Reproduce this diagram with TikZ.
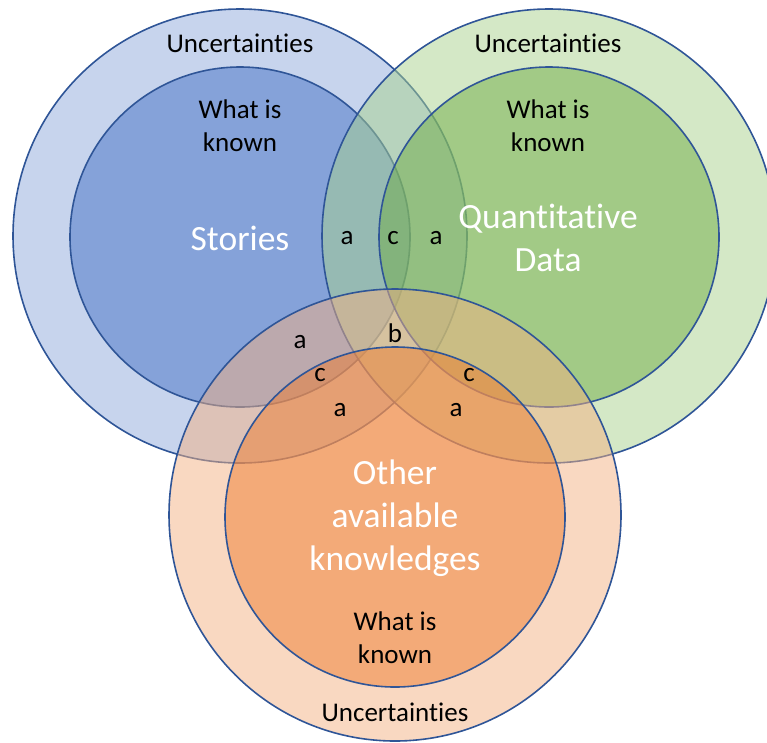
\documentclass[tikz,border=0pt]{standalone}
\usepackage{fontspec}
\setmainfont{Carlito}[Ligatures={NoCommon}]
\definecolor{edge}{HTML}{2F5597}
\definecolor{blueout}{HTML}{8FAADC}
\definecolor{bluein}{HTML}{4472C4}
\definecolor{greenout}{HTML}{A9D18E}
\definecolor{greenin}{HTML}{70AD47}
\definecolor{orangeout}{HTML}{F4B183}
\definecolor{orangein}{HTML}{ED7D31}
\tikzset{
  ring/.style={draw=edge, line width=1.6pt, fill opacity=0.5, draw opacity=1},
  lbl/.style={font=\fontsize{27}{33}\selectfont, align=center, text=black, inner sep=0pt},
  biglbl/.style={font=\fontsize{35.5}{43}\selectfont, align=center, text=white, inner sep=0pt},
  zone/.style={font=\fontsize{27}{30}\selectfont, text=black, inner sep=0pt}
}
\begin{document}
\begin{tikzpicture}[x=1pt,y=-1pt]
\useasboundingbox (0,0) rectangle (767,742);
\clip (0,0) rectangle (767,742);
% circles
\draw[ring, fill=blueout] (240,236) circle[radius=227];
\draw[ring, fill=bluein] (240,237) circle[radius=170];
\draw[ring, fill=greenout] (549,236) circle[radius=227];
\draw[ring, fill=greenin] (549,237) circle[radius=170];
\draw[ring, fill=orangeout] (395,515) circle[radius=226];
\draw[ring, fill=orangein] (395,517) circle[radius=170];
% labels
\node[lbl] (bu) at (240,43) {Uncertainties};
\node[lbl] (bk) at (240,126) {What is\\known};
\node[biglbl] (st) at (240,238) {Stories};
\node[lbl] (gu) at (548,43) {Uncertainties};
\node[lbl] (gk) at (548,126) {What is\\known};
\node[biglbl] (qd) at (548,238) {Quantitative\\Data};
\node[biglbl] (ok) at (395,518) {Other\\available\\knowledges};
\node[lbl] (owk) at (395,638) {What is\\known};
\node[lbl] (ou) at (395,712) {Uncertainties};
% zone letters
\node[zone] (a1) at (347,238) {a};
\node[zone] (c1) at (393,238) {c};
\node[zone] (a2) at (436,238) {a};
\node[zone] (a3) at (300,342) {a};
\node[zone] (b1) at (395,333) {b};
\node[zone] (c2) at (320,375) {c};
\node[zone] (c3) at (469,375) {c};
\node[zone] (a4) at (340,410) {a};
\node[zone] (a5) at (456,410) {a};
\end{tikzpicture}
\end{document}
